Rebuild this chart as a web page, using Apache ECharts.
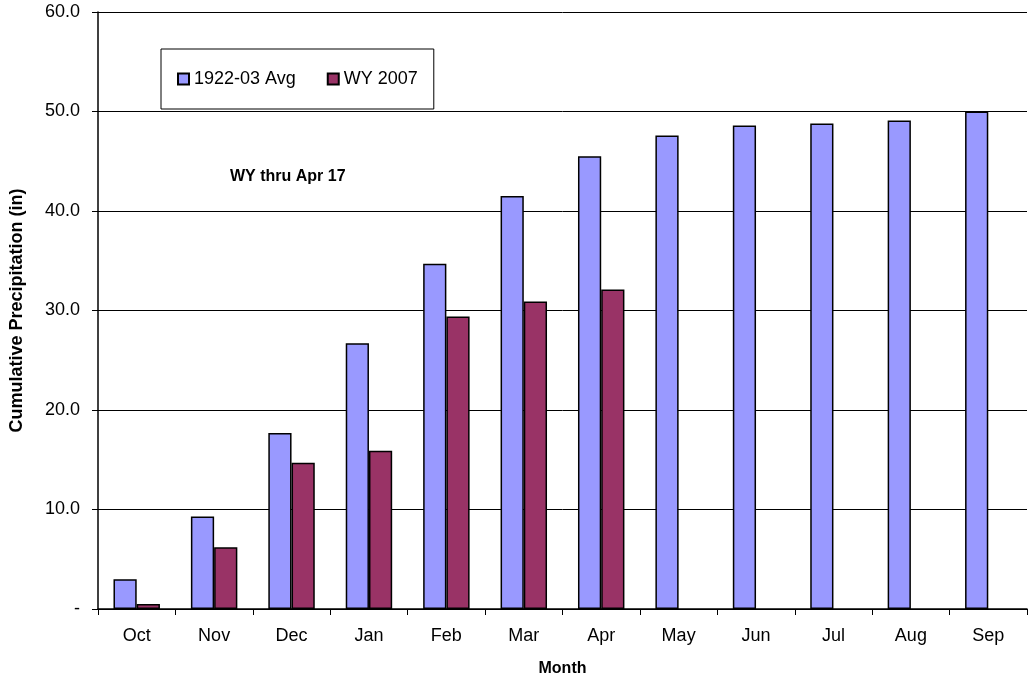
<!DOCTYPE html>
<html>
<head>
<meta charset="utf-8">
<script src="https://cdn.jsdelivr.net/npm/echarts@6/dist/echarts.min.js"></script>
<style>
  html,body{margin:0;padding:0;background:#fff;}
  #chart{width:1029px;height:683px;}
</style>
</head>
<body>
<div id="chart"></div>
<script>
const months=['Oct','Nov','Dec','Jan','Feb','Mar','Apr','May','Jun','Jul','Aug','Sep']
const avgPrecip=[3.0,9.3,17.7,26.7,34.7,41.5,45.5,47.6,48.6,48.8,49.1,50.0]
const wy2007=[0.5,6.2,14.7,15.9,29.4,30.9,32.1,null,null,null,null,null]
const yTicks=[0,10,20,30,40,50,60]

const myChart=echarts.init(document.querySelector('#chart'))
const font='"Liberation Sans", Arial, sans-serif'
const option={
  animation:false,
  textStyle:{fontFamily:font},
  grid:{left:98,right:2,top:12,bottom:74},
  legend:{
    left:161,top:49,
    padding:[21,16,21,16],
    itemWidth:11,itemHeight:11,itemGap:31,
    borderColor:'#000',borderWidth:1,
    backgroundColor:'#fff',
    icon:'rect',
    textStyle:{fontSize:18,color:'#000',fontFamily:font},
    data:['1922-03 Avg','WY 2007']
  },
  graphic:[{
    type:'text',left:230,top:169,
    style:{text:'WY thru Apr 17',font:'bold 16px '+font,fill:'#000'}
  }],
  xAxis:{
    type:'category',
    data:months,
    name:'Month',
    nameLocation:'middle',
    nameGap:52,
    nameTextStyle:{fontSize:16,fontWeight:'bold',color:'#000'},
    axisLine:{lineStyle:{color:'#000',width:1.5}},
    axisTick:{show:true,length:6,lineStyle:{color:'#000'}},
    axisLabel:{fontSize:18,color:'#000',margin:18}
  },
  yAxis:{
    type:'value',
    min:yTicks[0],max:yTicks[yTicks.length-1],interval:10,
    name:'Cumulative Precipitation (in)',
    nameLocation:'middle',
    nameGap:72,
    nameTextStyle:{fontSize:18,fontWeight:'bold',color:'#000'},
    axisLine:{show:true,lineStyle:{color:'#000',width:1.5}},
    axisTick:{show:true,length:6,lineStyle:{color:'#000'}},
    splitLine:{lineStyle:{color:'#000',width:1}},
    axisLabel:{
      fontSize:18,color:'#000',margin:18,
      formatter:v=>v===0?'-':v.toFixed(1)
    }
  },
  series:[
    {
      name:'1922-03 Avg',
      type:'bar',
      data:avgPrecip,
      barGap:'0%',
      barCategoryGap:'40%',
      itemStyle:{color:'#9999ff',borderColor:'#000',borderWidth:1.5}
    },
    {
      name:'WY 2007',
      type:'bar',
      data:wy2007,
      itemStyle:{color:'#993366',borderColor:'#000',borderWidth:1.5}
    }
  ]
}
myChart.setOption(option)
</script>
</body>
</html>
